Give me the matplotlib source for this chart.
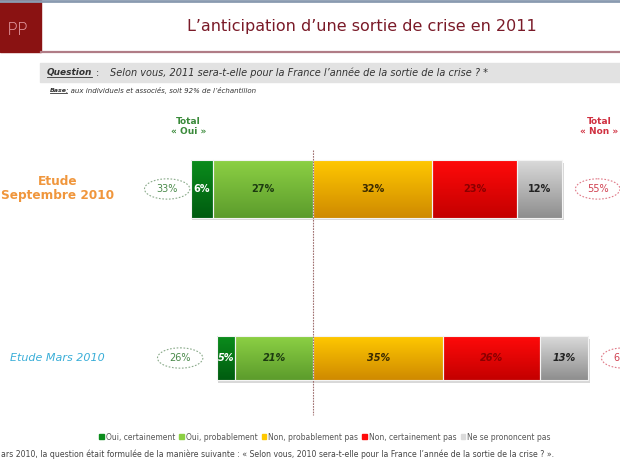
import matplotlib
matplotlib.use("Agg")
import matplotlib.pyplot as plt
import matplotlib.patches as mpatches
from matplotlib.colors import to_rgb
import numpy as np

# Data
studies = ["Etude\nSeptembre 2010", "Etude Mars 2010"]
categories = ["Oui, certainement", "Oui, probablement", "Non, probablement pas",
              "Non, certainement pas", "Ne se prononcent pas"]
sept_2010 = [6, 27, 32, 23, 12]
mars_2010 = [5, 21, 35, 26, 13]
total_oui = [33, 26]
total_non = [55, 61]

# Colours (top of gradient, bottom of gradient)
top_cols = ["#0b8c1c", "#8cd044", "#ffc800", "#ff0a0a", "#dadada"]
bot_cols = ["#005c10", "#5c9c2c", "#cf8a00", "#c40000", "#8e8e8e"]
label_cols = ["white", "#1c3a10", "#3a2a00", "#8a0000", "#222222"]

W, H = 620, 465
fig = plt.figure(figsize=(W / 100, H / 100), dpi=100)

def fx(px):
    return px / W

def fy(py):
    return 1 - py / H

# Header
fig.patches.append(mpatches.Rectangle((0, fy(52)), fx(41), 52 / H, transform=fig.transFigure,
                                      color="#8a1212", zorder=1))
fig.lines.append(plt.Line2D([0, 1], [fy(1), fy(1)], transform=fig.transFigure, color="#8a9ab0", lw=2))
fig.lines.append(plt.Line2D([fx(41), 1], [fy(52), fy(52)], transform=fig.transFigure,
                            color="#b07c86", lw=1.6))
fig.text(fx(18), fy(30), "PP", color="#e8a0a8", fontsize=13, ha="center", va="center",
         fontweight="light")
fig.text(fx(362), fy(27), "L\u2019anticipation d\u2019une sortie de crise en 2011",
         color="#7a1a28", fontsize=11.5, ha="center", va="center")

# Question band
fig.patches.append(mpatches.Rectangle((fx(40), fy(82)), 1 - fx(40), 19 / H, transform=fig.transFigure,
                                      color="#e2e2e2", zorder=1))
q_lbl = fig.text(fx(47), fy(73), "Question", fontsize=6.5, fontstyle="italic", fontweight="bold",
                 color="#333333", va="center")
fig.text(fx(96), fy(73), ":", fontsize=7, color="#333333", va="center")
fig.text(fx(110), fy(73), "Selon vous, 2011 sera-t-elle pour la France l\u2019ann\u00e9e de la sortie de la crise ? *",
         fontsize=7, fontstyle="italic", color="#333333", va="center")
b_lbl = fig.text(fx(50), fy(91), "Base", fontsize=4.5, fontstyle="italic", fontweight="bold",
                 color="#333333", va="center")
fig.text(fx(66), fy(91), ": aux individuels et associ\u00e9s, soit 92% de l\u2019\u00e9chantillon",
         fontsize=5, fontstyle="italic", color="#333333", va="center")

# Chart area
ax = fig.add_axes([0, 0, 1, 1])
ax.set_xlim(-84.3, 82.6)
ax.set_ylim(1.633, -1.118)
ax.axis("off")

rows = [sept_2010, mars_2010]
heights = [0.343, 0.26]
left_gap = [6.3, 9.8]
right_gap = 9.6
study_styles = [dict(color="#f0963c", fontweight="bold", fontsize=8.7),
                dict(color="#3aaed8", fontstyle="italic", fontsize=8)]

for i, (vals, h) in enumerate(zip(rows, heights)):
    left = -total_oui[i]
    # shadow
    ax.barh(i + 0.015, sum(vals), left=left + 0.4, height=h, color="#d8d8d8", zorder=1)
    for j, v in enumerate(vals):
        ax.barh(i, v, left=left, height=h, color=bot_cols[j], zorder=2)
        grad = np.linspace(0, 1, 64)[:, None, None]
        img = (1 - grad) * np.array(to_rgb(top_cols[j])) + grad * np.array(to_rgb(bot_cols[j]))
        ax.imshow(img, extent=(left, left + v, i + h / 2, i - h / 2), aspect="auto", zorder=3,
                  interpolation="bilinear")
        ax.barh(i, v, left=left, height=h, facecolor="none", edgecolor="#f4f4f4", lw=0.8, zorder=4)
        ax.text(left + v / 2, i, f"{v}%", ha="center", va="center", fontsize=7, fontweight="bold",
                color=label_cols[j], fontstyle="italic" if i == 1 else "normal", zorder=5)
        left += v

    # totals in dashed ellipses
    xo = -total_oui[i] - left_gap[i]
    ax.add_patch(mpatches.Ellipse((xo, i), 12.2, 0.12, facecolor="white", edgecolor="#8aaa8a",
                                  ls=(0, (1.5, 1.5)), lw=0.8, zorder=5))
    ax.text(xo, i, f"{total_oui[i]}%", ha="center", va="center", fontsize=7, color="#4a8a4a", zorder=6)
    xn = 100 - total_oui[i] + right_gap
    ax.add_patch(mpatches.Ellipse((xn, i), 12.0, 0.12, facecolor="white", edgecolor="#e07a88",
                                  ls=(0, (1.5, 1.5)), lw=0.8, zorder=5))
    ax.text(xn, i, f"{total_non[i]}%", ha="center", va="center", fontsize=7, color="#d04050", zorder=6)

    ax.text(-68.9, i, studies[i], ha="center", va="center", linespacing=1.1, **study_styles[i])

# divider between oui and non
ax.plot([0, 0], [-0.231, 1.337], color="#a07070", lw=0.8, ls=(0, (1.5, 1)), zorder=6)

# Total headers
ax.text(-33.6, -0.37, "Total\n\u00ab Oui \u00bb", ha="center", va="center", fontsize=6.5,
        fontweight="bold", color="#3a8a3a", linespacing=1.2)
ax.text(77, -0.37, "Total\n\u00ab Non \u00bb", ha="center", va="center", fontsize=6.5,
        fontweight="bold", color="#d03040", linespacing=1.2)

# Legend
handles = [mpatches.Patch(color=c) for c in top_cols]
fig.legend(handles, categories, loc="center", bbox_to_anchor=(fx(325), fy(437)), ncol=5,
           frameon=False, fontsize=5.5, handlelength=0.6, handleheight=0.6, handletextpad=0.3,
           columnspacing=0.5, labelcolor="#555555")

fig.text(fx(1), fy(454), "ars 2010, la question \u00e9tait formul\u00e9e de la mani\u00e8re suivante : \u00ab Selon vous, "
         "2010 sera-t-elle pour la France l\u2019ann\u00e9e de la sortie de la crise ? \u00bb.",
         fontsize=5.6, color="#444444", va="center")

# underline the little headings
fig.canvas.draw()
for t in (q_lbl, b_lbl):
    bb = t.get_window_extent().transformed(fig.transFigure.inverted())
    fig.lines.append(plt.Line2D([bb.x0, bb.x1], [bb.y0 + 0.002, bb.y0 + 0.002],
                                transform=fig.transFigure, color="#333333", lw=0.6))

fig.savefig("out.png", dpi=100)
